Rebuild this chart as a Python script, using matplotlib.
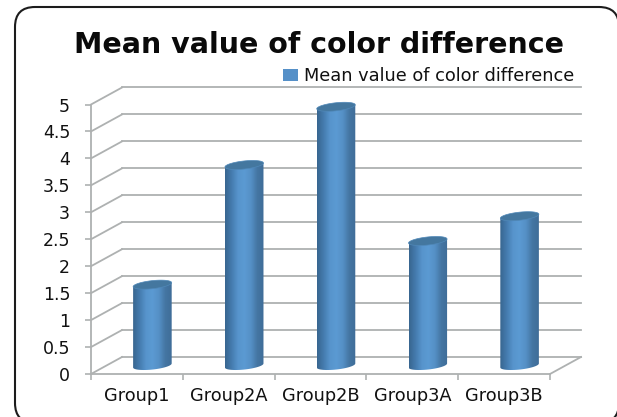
import numpy as np
import matplotlib
matplotlib.use('Agg')
import matplotlib.pyplot as plt
from matplotlib.colors import LinearSegmentedColormap
from matplotlib.patches import FancyBboxPatch, Polygon, Patch

groups = ['Group1', 'Group2A', 'Group2B', 'Group3A', 'Group3B']
values = [1.5, 3.72, 4.8, 2.31, 2.77]
y_ticks = [0, 0.5, 1, 1.5, 2, 2.5, 3, 3.5, 4, 4.5, 5]
y_labels = ['0', '0.5', '1', '1.5', '2', '2.5', '3', '3.5', '4', '4.5', '5']
title = 'Mean value of color difference'

GRID = '#aeb1b1'
# depth of the fake 3d box, in data units
dx = 31 / 91.8
dy = 17 / 53.9
bar_w = 0.42
cap_h = 0.075
tilt = 0.037

fig = plt.figure(figsize=(6.17, 4.17), dpi=100)

# frame behind the chart, pixel coords
bg = fig.add_axes([0, 0, 1, 1])
bg.set_xlim(0, 617)
bg.set_ylim(417, 0)
bg.axis('off')
bg.add_patch(FancyBboxPatch((15, 7), 604, 416, boxstyle='round,pad=0,rounding_size=20',
                            fc='white', ec='#1c1c1c', lw=1.5))
bg.text(319, 45, title, ha='center', va='center', fontsize=20.5,
        fontweight='bold', color='#0a0a0a')

ax = fig.add_axes([91 / 617, 1 - 374 / 417, 459 / 617, 269.5 / 417])
ax.patch.set_alpha(0)

# back wall and side wall lines
for y in y_ticks:
    ax.plot([0, dx], [y, y + dy], color=GRID, lw=1.3, clip_on=False, zorder=1)
    ax.plot([dx, 5 + dx], [y + dy, y + dy], color=GRID, lw=1.3, clip_on=False, zorder=1)
ax.plot([5, 5 + dx], [0, dy], color=GRID, lw=1.3, clip_on=False, zorder=1)

# cylinders
cmap = LinearSegmentedColormap.from_list('cyl', ['#386690', '#457caf', '#5794cc', '#5b9ad3',
                                                 '#5590c6', '#4576a3', '#3f6d98'])
grad = np.linspace(0, 1, 64).reshape(1, -1)
t_low = np.linspace(0, -np.pi, 30)
t_cap = np.linspace(0, 2 * np.pi, 60)
for i, v in enumerate(values):
    cx = i + 0.5 + dx / 2
    base = dy / 2
    top = v + dy / 2
    left = cx - bar_w / 2
    right = cx + bar_w / 2
    low_x = cx + bar_w / 2 * np.cos(t_low)
    low_y = base + cap_h * np.sin(t_low) + tilt * np.cos(t_low)
    body_xy = np.vstack([[[left, top - tilt], [right, top + tilt]],
                         np.column_stack([low_x, low_y])])
    body = Polygon(body_xy, closed=True, fc='none', ec='none', transform=ax.transData)
    ax.add_patch(body)
    im = ax.imshow(grad, cmap=cmap, extent=(left, right, base - cap_h - tilt, top + tilt),
                   aspect='auto', zorder=3, interpolation='bilinear')
    im.set_clip_path(body)
    cap_xy = np.column_stack([cx + bar_w / 2 * np.cos(t_cap),
                              top + cap_h * np.sin(t_cap) + tilt * np.cos(t_cap)])
    ax.add_patch(Polygon(cap_xy, closed=True, fc='#44779f', ec='#5088b8', lw=0.5,
                         zorder=4, clip_on=False))
ax.set_xlim(0, 5)
ax.set_ylim(0, 5)

for s in ['top', 'right']:
    ax.spines[s].set_visible(False)
for s in ['left', 'bottom']:
    ax.spines[s].set_color(GRID)
    ax.spines[s].set_linewidth(1.3)

ax.set_yticks(y_ticks)
ax.set_yticklabels(y_labels)
ax.set_xticks(range(6))
ax.set_xticklabels([])
ax.set_xticks(np.arange(5) + 0.5, minor=True)
ax.set_xticklabels(groups, minor=True)
ax.tick_params(axis='y', length=4.5, width=1.2, color=GRID, pad=10.5, labelsize=12.5, labelcolor='#111111')
ax.tick_params(axis='x', which='major', length=4, width=1.2, color=GRID)
ax.tick_params(axis='x', which='minor', length=0, pad=9.5, labelsize=12.8, labelcolor='#111111')

handle = Patch(fc='#5590c8', ec='none')
ax.legend(handles=[handle], labels=[title], frameon=False, fontsize=12.8,
          loc='center right', bbox_to_anchor=(483 / 459, 1 + 28.5 / 269.5), handlelength=0.8,
          handleheight=0.7, handletextpad=0.35, borderpad=0, borderaxespad=0,
          labelcolor='#111111')

fig.savefig('out.png', dpi=100)
